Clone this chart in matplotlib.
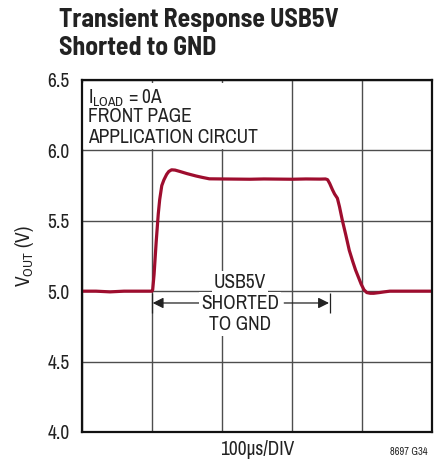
import matplotlib
matplotlib.use('Agg')
import matplotlib.pyplot as plt
from matplotlib import font_manager
from matplotlib.patches import Rectangle

# trace samples: time (us) vs output voltage (V)
t_us = [0, 20, 40, 60, 80, 95, 100, 101, 103, 106, 109, 111, 114, 117, 121,
        124, 128, 133, 140, 150, 163, 172, 182, 200, 220, 240, 260, 280, 300,
        320, 340, 348, 351, 354, 358, 361, 365, 368, 372, 377, 382, 387, 391,
        395, 399, 403, 407, 412, 417, 425, 432, 440, 460, 480, 500]
v_out = [5.00, 5.00, 4.995, 5.00, 5.00, 5.00, 5.00, 5.01, 5.12, 5.35, 5.55,
         5.65, 5.75, 5.79, 5.83, 5.85, 5.862, 5.86, 5.85, 5.835, 5.818, 5.808,
         5.798, 5.797, 5.796, 5.795, 5.797, 5.796, 5.795, 5.797, 5.796, 5.797,
         5.792, 5.765, 5.72, 5.69, 5.66, 5.60, 5.505, 5.40, 5.29, 5.21, 5.15,
         5.10, 5.05, 5.01, 4.99, 4.985, 4.985, 4.99, 4.995, 5.00, 5.00, 5.00,
         5.00]

y_ticks = [4.0, 4.5, 5.0, 5.5, 6.0, 6.5]
x_grid = [0, 100, 200, 300, 400, 500]
short_start, short_end = 100, 355


def pick(candidates):
    names = {f.name for f in font_manager.fontManager.ttflist}
    for c in candidates:
        if c in names:
            return c
    return 'DejaVu Sans'


BODY = pick(['Archivo Narrow', 'Liberation Sans Narrow', 'Roboto Condensed',
             'Fira Sans Condensed', 'Barlow Semi Condensed'])
HEAD = pick(['Barlow Semi Condensed', 'Encode Sans Condensed', 'Fira Sans Condensed',
             'Asap Condensed'])
plt.rcParams['font.family'] = [BODY, 'DejaVu Sans']
plt.rcParams['mathtext.fontset'] = 'custom'
plt.rcParams['mathtext.rm'] = BODY

TRACE = '#9e0d2e'
GRID = '#4d4d4d'
TEXT = '#222222'

fig = plt.figure(figsize=(4.34, 4.61), dpi=100)
ax = fig.add_axes([0.189, 0.063, 0.806, 0.7635])

ax.set_xlim(0, 500)
ax.set_ylim(4.0, 6.5)
ax.set_yticks(y_ticks)
ax.set_yticklabels([f'{v:.1f}' for v in y_ticks])
ax.set_xticks(x_grid)
ax.set_xticklabels([])
ax.tick_params(length=0, labelsize=14, colors=TEXT, pad=9)
ax.grid(True, color=GRID, lw=1.0)
ax.set_axisbelow(True)
for sp in ax.spines.values():
    sp.set_linewidth(1.6)
    sp.set_color('#111111')
    sp.set_zorder(6)

ax.plot(t_us, v_out, color=TRACE, lw=2.3, solid_capstyle='round', zorder=3)

# condition block in the upper-left corner
ax.add_patch(Rectangle((0, 6.01), 246, 0.47, facecolor='white', edgecolor='none', zorder=2))
ax.text(8, 6.335, '$\\mathregular{I_{LOAD}}$ = 0A', ha='left', va='baseline',
        fontsize=14, color=TEXT, zorder=5)
ax.text(8, 6.204, 'FRONT PAGE', ha='left', va='baseline', fontsize=14, color=TEXT, zorder=5)
ax.text(8, 6.055, 'APPLICATION CIRCUT', ha='left', va='baseline', fontsize=14,
        color=TEXT, zorder=5)

# short-circuit interval marker
ax.vlines([short_start, short_end], 4.845, 4.987, color=TEXT, lw=0.9, zorder=4)
arrow = dict(arrowstyle='-|>', color=TEXT, lw=0.9, mutation_scale=16, shrinkA=0, shrinkB=0)
ax.annotate('', xy=(short_start + 1, 4.916), xytext=(168, 4.916), arrowprops=arrow)
ax.annotate('', xy=(short_end - 2, 4.916), xytext=(289, 4.916), arrowprops=arrow)
box = dict(facecolor='white', edgecolor='none', pad=1.5)
for label, yb in [('USB5V', 5.021), ('SHORTED', 4.874), ('TO GND', 4.724)]:
    ax.text(226, yb, label, ha='center', va='baseline', fontsize=14, color=TEXT,
            zorder=5, bbox=box)

ax.set_ylabel('$\\mathregular{V_{OUT}}$ (V)', fontsize=14, color=TEXT, labelpad=8)
fig.text(0.592, 0.012, '100µs/DIV', ha='center', va='baseline', fontsize=14, color=TEXT)

fig.text(0.136, 0.9414, 'Transient Response USB5V', ha='left', va='baseline',
         fontsize=18.5, fontweight='bold', family=HEAD, color=TEXT)
fig.text(0.136, 0.8807, 'Shorted to GND', ha='left', va='baseline',
         fontsize=18.5, fontweight='bold', family=HEAD, color=TEXT)
fig.text(0.986, 0.012, '8697 G34', ha='right', va='baseline', fontsize=7.5, color=TEXT)

fig.savefig('out.png', dpi=100, facecolor='white')
plt.close(fig)
